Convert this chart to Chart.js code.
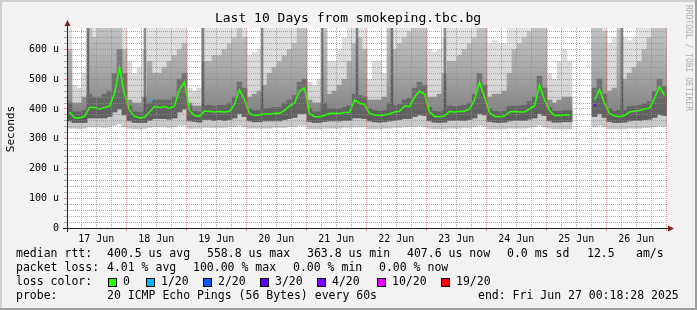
<!DOCTYPE html>
<html lang="en">
<head>
<meta charset="UTF-8">
<title>Last 10 Days from smokeping.tbc.bg</title>
<style>
    html, body { margin: 0; padding: 0; background: #f2f2f2; }
    canvas { display: block; }
</style>
<script src="https://cdn.jsdelivr.net/npm/chart.js@4.4.1/dist/chart.umd.min.js"></script>
</head>
<body>
<canvas id="smokeChart" width="697" height="310"></canvas>
<script>
// time axis in hours since 17 Jun 00:00, one slot = 2 hours
const startHour = 0.308;   // Tue Jun 17 00:18:28
const endHour = 240.308;   // Fri Jun 27 00:18:28
const slotHours = 2;
const dayLabels = ['17 Jun', '18 Jun', '19 Jun', '20 Jun', '21 Jun', '22 Jun', '23 Jun', '24 Jun', '25 Jun', '26 Jun'];
const yTickValues = [0, 100, 200, 300, 400, 500, 600];

// median rtt, microseconds (12 slots per day)
const medianRtt = [
    390, 370, 370, 375, 405, 405, 400, 405, 410, 450, 540, 450,
    395, 375, 370, 372, 390, 408, 405, 408, 402, 410, 465, 490,
    395, 378, 375, 393, 392, 390, 392, 390, 392, 415, 465, 430,
    385, 378, 380, 383, 383, 385, 385, 395, 410, 420, 460, 470,
    385, 374, 374, 378, 385, 385, 385, 388, 388, 430, 420, 415,
    385, 380, 378, 380, 383, 390, 392, 410, 408, 440, 460, 450,
    390, 375, 374, 376, 392, 390, 392, 392, 400, 430, 490, 440,
    388, 375, 374, 376, 390, 392, 390, 390, 400, 410, 480, 430,
    395, 378, 378, 380, 380, null, null, null, null, 430, 465, 420,
    385, 376, 374, 378, 390, 392, 395, 400, 402, 435, 475, 445
];
// smoke: lowest / highest ping (light), upper spread (mid), core around median (dark)
const lightLo = [
    335, 335, 333, 335, 340, 340, 340, 338, 340, 345, 350, 340,
    335, 333, 333, 335, 338, 340, 340, 340, 338, 340, 345, 345,
    335, 335, 335, 338, 338, 338, 338, 338, 340, 340, 345, 340,
    335, 335, 335, 335, 335, 338, 338, 338, 340, 340, 345, 345,
    333, 333, 333, 335, 335, 335, 335, 338, 338, 340, 340, 340,
    333, 333, 333, 335, 335, 338, 338, 340, 340, 340, 342, 340,
    335, 333, 333, 333, 335, 335, 335, 338, 338, 340, 345, 342,
    333, 333, 333, 333, 335, 335, 335, 335, 338, 340, 345, 340,
    335, 333, 333, 333, 333, null, null, null, null, 340, 345, 340,
    333, 333, 333, 333, 335, 335, 335, 338, 338, 340, 342, 340
];
const lightHi = [
    672, 480, 470, 520, 672, 672, 672, 672, 672, 672, 672, 672,
    560, 520, 540, 600, 672, 672, 672, 672, 672, 672, 672, 672,
    470, 460, 470, 672, 672, 672, 672, 672, 672, 672, 672, 672,
    580, 590, 600, 672, 672, 672, 672, 672, 672, 672, 672, 672,
    490, 480, 500, 672, 560, 560, 600, 640, 672, 672, 672, 672,
    500, 560, 560, 520, 672, 672, 672, 672, 672, 672, 672, 672,
    600, 590, 600, 640, 672, 672, 672, 672, 672, 672, 672, 672,
    620, 630, 620, 620, 672, 672, 672, 672, 672, 672, 672, 672,
    520, 500, 560, 600, 560, null, null, null, null, 672, 672, 672,
    620, 640, 672, 640, 630, 640, 672, 672, 672, 672, 672, 672
];
const midHi = [
    600, 420, 420, 440, 672, 640, 672, 672, 672, 672, 672, 600,
    430, 420, 420, 440, 560, 520, 520, 540, 560, 580, 600, 620,
    420, 410, 410, 560, 560, 580, 580, 600, 620, 640, 672, 640,
    440, 450, 460, 480, 520, 540, 560, 580, 600, 620, 672, 672,
    430, 420, 420, 672, 450, 460, 480, 500, 560, 620, 640, 600,
    430, 430, 430, 440, 672, 600, 620, 640, 660, 672, 672, 672,
    440, 440, 450, 520, 560, 560, 580, 600, 620, 640, 672, 672,
    440, 450, 450, 460, 520, 600, 620, 640, 660, 672, 672, 672,
    430, 420, 430, 440, 440, null, null, null, null, 672, 672, 660,
    460, 470, 672, 500, 520, 540, 560, 600, 640, 672, 672, 672
];
const darkLo = [
    360, 355, 355, 355, 370, 370, 370, 370, 375, 390, 400, 380,
    360, 355, 355, 355, 362, 368, 368, 368, 366, 370, 390, 400,
    360, 358, 356, 365, 365, 362, 364, 362, 365, 370, 385, 375,
    360, 357, 357, 360, 360, 360, 360, 365, 368, 372, 385, 385,
    358, 355, 355, 358, 360, 360, 360, 362, 362, 370, 370, 368,
    360, 357, 356, 357, 360, 362, 365, 368, 368, 375, 380, 378,
    360, 356, 355, 356, 362, 362, 362, 362, 365, 370, 385, 380,
    358, 356, 355, 356, 360, 362, 362, 362, 366, 370, 385, 378,
    360, 356, 356, 357, 357, null, null, null, null, 375, 385, 372,
    358, 355, 355, 356, 360, 362, 362, 364, 366, 372, 382, 378
];
const darkHi = [
    420, 390, 390, 395, 450, 440, 440, 450, 460, 520, 600, 520,
    410, 390, 388, 390, 420, 430, 430, 430, 430, 440, 500, 520,
    410, 392, 390, 410, 412, 410, 412, 412, 420, 440, 490, 470,
    400, 395, 395, 400, 402, 405, 405, 420, 430, 445, 490, 500,
    400, 390, 390, 420, 400, 400, 400, 405, 410, 450, 445, 440,
    400, 395, 392, 395, 420, 410, 415, 430, 435, 470, 490, 480,
    405, 392, 390, 395, 410, 408, 410, 412, 420, 450, 520, 480,
    400, 392, 390, 392, 408, 410, 410, 412, 425, 440, 510, 470,
    405, 392, 392, 394, 394, null, null, null, null, 470, 500, 450,
    400, 392, 395, 395, 408, 410, 412, 418, 425, 460, 500, 475
];
// single-sample spikes (dark vertical streaks): hour, low, high
const streakHour = [8.7, 31.5, 54.7, 78.3, 102.3, 116.3, 130.3, 151.5, 222.3];
const streakLo = [370, 365, 370, 380, 375, 380, 385, 372, 380];
const streakHi = [672, 672, 672, 672, 672, 672, 672, 672, 672];
// samples with packet loss: hour, rtt, colour index
const lossHour = [34.3, 211.5];
const lossRtt = [430, 412];
const lossLevel = [1, 3];

const slotX = medianRtt.map((_, i) => startHour + slotHours * (i + 0.5));
const band = (lo, hi) => slotX.map((x, i) => ({ x: x, y: lo[i] == null ? null : [lo[i], hi[i]] }));

const MONO = "'DejaVu Sans Mono', monospace";
const gridMinor = 'rgba(143,143,143,0.75)';
const gridMajor = 'rgba(222,79,79,0.6)';

// legend colours used by smokeping for packet loss
const lossLabels = ['0', '1/20', '2/20', '3/20', '4/20', '10/20', '19/20'];
const lossColors = ['#26ff00', '#00b8ff', '#0059ff', '#5e00ff', '#7e00ff', '#dd00ff', '#ff0000'];
const lossBoxX = [108, 146, 203, 260, 317, 377, 441];

// vertical shading: smoke gets darker towards the median
function smokeFill(stops) {
    return (c) => {
        const chart = c.chart;
        if (!chart.chartArea) return stops[stops.length - 1][1];
        const y = chart.scales.y;
        const g = chart.ctx.createLinearGradient(0, y.getPixelForValue(672), 0, y.getPixelForValue(340));
        stops.forEach(([o, col]) => g.addColorStop(o, col));
        return g;
    };
}

const extras = {
    id: 'extras',
    beforeDraw(chart) {
        const ctx = chart.ctx, a = chart.chartArea;
        ctx.save();
        ctx.fillStyle = '#f2f2f2';
        ctx.fillRect(0, 0, 697, 310);
        ctx.fillStyle = '#cfcfcf';
        ctx.fillRect(0, 0, 697, 2);
        ctx.fillRect(0, 0, 2, 310);
        ctx.fillStyle = '#9e9e9e';
        ctx.fillRect(0, 308, 697, 2);
        ctx.fillRect(695, 0, 2, 310);
        ctx.fillStyle = '#ffffff';
        ctx.fillRect(a.left, a.top, a.right - a.left, a.bottom - a.top);
        ctx.restore();
    },
    afterDraw(chart) {
        const ctx = chart.ctx, a = chart.chartArea;
        ctx.save();
        // axes
        ctx.strokeStyle = '#1f1f1f';
        ctx.lineWidth = 1;
        ctx.beginPath();
        ctx.moveTo(63, a.bottom + 0.5);
        ctx.lineTo(669, a.bottom + 0.5);
        ctx.moveTo(a.left + 0.5, a.bottom + 4);
        ctx.lineTo(a.left + 0.5, 25);
        ctx.stroke();
        // arrows
        ctx.fillStyle = '#801f1f';
        ctx.beginPath();
        ctx.moveTo(674, a.bottom + 0.5);
        ctx.lineTo(668, a.bottom - 2.5);
        ctx.lineTo(668, a.bottom + 3.5);
        ctx.closePath();
        ctx.fill();
        ctx.beginPath();
        ctx.moveTo(a.left + 0.5, 20);
        ctx.lineTo(a.left - 2.5, 26);
        ctx.lineTo(a.left + 3.5, 26);
        ctx.closePath();
        ctx.fill();

        // title
        ctx.fillStyle = '#000';
        ctx.textBaseline = 'middle';
        ctx.textAlign = 'center';
        ctx.font = '13px ' + MONO;
        ctx.fillText('Last 10 Days from smokeping.tbc.bg', 348, 19);

        // y axis title
        ctx.save();
        ctx.translate(11, 129);
        ctx.rotate(-Math.PI / 2);
        ctx.font = '11px ' + MONO;
        ctx.fillText('Seconds', 0, 0);
        ctx.restore();

        // watermark
        ctx.save();
        ctx.translate(688, 5);
        ctx.rotate(Math.PI / 2);
        ctx.textAlign = 'left';
        ctx.font = '8px ' + MONO;
        ctx.fillStyle = 'rgba(0,0,0,0.3)';
        ctx.fillText('RRDTOOL / TOBI OETIKER', 0, 0);
        ctx.restore();

        // legend
        ctx.textAlign = 'left';
        ctx.font = '11.5px ' + MONO;
        const rows = [
            [254, [[16, 'median rtt:'], [107, '400.5 us avg'], [207, '558.8 us max'], [307, '363.8 us min'],
                   [407, '407.6 us now'], [507, '0.0 ms sd'], [587, '12.5'], [636, 'am/s']]],
            [268, [[16, 'packet loss:'], [107, '4.01 % avg'], [193, '100.00 % max'], [293, '0.00 % min'], [379, '0.00 % now']]],
            [282, [[16, 'loss color:']]],
            [296, [[16, 'probe:'], [107, '20 ICMP Echo Pings (56 Bytes) every 60s'], [478, 'end: Fri Jun 27 00:18:28 2025']]]
        ];
        rows.forEach(([y, items]) => items.forEach(([x, t]) => ctx.fillText(t, x, y)));
        lossLabels.forEach((lbl, i) => {
            const bx = lossBoxX[i];
            ctx.fillStyle = lossColors[i];
            ctx.fillRect(bx, 278, 8, 8);
            ctx.strokeStyle = '#000';
            ctx.strokeRect(bx + 0.5, 278.5, 8, 8);
            ctx.fillStyle = '#000';
            ctx.fillText(lbl, bx + 15, 282);
        });
        ctx.restore();
    }
};

new Chart(document.getElementById('smokeChart'), {
    type: 'bar',
    data: {
        datasets: [
            {
                type: 'scatter',
                label: 'loss',
                data: lossHour.map((h, i) => ({ x: h, y: lossRtt[i] })),
                pointStyle: 'rect',
                pointRadius: 1.5,
                borderWidth: 0,
                backgroundColor: lossLevel.map((k) => lossColors[k]),
                order: -1
            },
            {
                type: 'line',
                label: 'median rtt',
                data: slotX.map((x, i) => ({ x: x, y: medianRtt[i] })),
                borderColor: '#26ff00',
                borderWidth: 1.6,
                pointRadius: 0,
                spanGaps: false,
                order: 0
            },
            { label: 'core', data: band(darkLo, darkHi), barThickness: 5,
              backgroundColor: smokeFill([[0, '#8a8a8a'], [0.6, '#6e6e6e'], [1, '#5a5a5a']]), order: 1 },
            { label: 'spikes', data: streakHour.map((h, i) => ({ x: h, y: [streakLo[i], streakHi[i]] })),
              barThickness: 2, backgroundColor: 'rgba(50,50,50,0.55)', order: 2 },
            { label: 'upper', data: band(darkLo, midHi), barThickness: 5,
              backgroundColor: smokeFill([[0, '#c2c2c2'], [0.45, '#a6a6a6'], [0.75, '#8c8c8c'], [1, '#7c7c7c']]), order: 3 },
            { label: 'all pings', data: band(lightLo, lightHi), barThickness: 5,
              backgroundColor: smokeFill([[0, '#e2e2e2'], [0.6, '#d6d6d6'], [1, '#c8c8c8']]), order: 4 }
        ]
    },
    options: {
        responsive: false,
        animation: false,
        layout: { padding: { left: 0, right: 30, top: 28, bottom: 62 } },
        datasets: { bar: { grouped: false, barPercentage: 1, categoryPercentage: 1, borderWidth: 0 } },
        plugins: { legend: { display: false }, tooltip: { enabled: false } },
        scales: {
            x: {
                type: 'linear',
                min: startHour,
                max: endHour,
                offset: false,
                afterFit: (s) => { s.height = 20; },
                afterBuildTicks: (s) => {
                    const t = [];
                    for (let h = 6; h <= 240; h += 6) t.push({ value: h });
                    s.ticks = t;
                },
                grid: {
                    offset: false,
                    z: 1,
                    color: (c) => (c.tick && c.tick.value % 24 === 0) ? gridMajor : gridMinor,
                    tickColor: (c) => (c.tick && c.tick.value % 24 === 0) ? gridMajor : 'rgba(0,0,0,0)',
                    tickLength: 3,
                    borderDash: [1, 1]
                },
                border: { display: false, dash: [1, 1] },
                ticks: {
                    autoSkip: false,
                    maxRotation: 0,
                    padding: 2,
                    color: '#000',
                    font: { family: MONO, size: 10 },
                    callback: (v) => (v % 24 === 12) ? dayLabels[Math.floor(v / 24)] : ''
                }
            },
            y: {
                min: 0,
                max: 672,
                afterFit: (s) => { s.width = 67; },
                afterBuildTicks: (s) => {
                    const t = [];
                    for (let v = 0; v <= 660; v += 20) t.push({ value: v });
                    s.ticks = t;
                },
                grid: {
                    z: 1,
                    color: (c) => (c.tick && c.tick.value % 100 === 0) ? gridMajor : gridMinor,
                    tickLength: 3,
                    borderDash: [1, 1]
                },
                border: { display: false, dash: [1, 1] },
                ticks: {
                    autoSkip: false,
                    padding: 5,
                    color: '#000',
                    font: { family: MONO, size: 10 },
                    callback: (v) => yTickValues.includes(v) ? (v === 0 ? '0' : v + ' u') : ''
                }
            }
        }
    },
    plugins: [extras]
});
</script>
</body>
</html>
